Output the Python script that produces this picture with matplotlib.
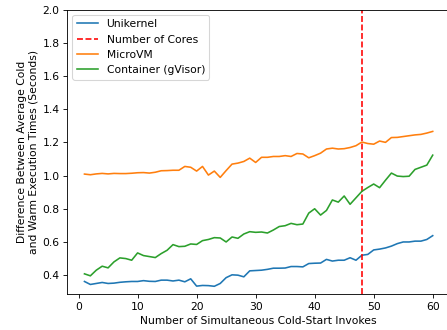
import matplotlib
matplotlib.use("Agg")
import matplotlib.pyplot as plt
import numpy as np

invokes = list(range(1, 61))

unikernel = [0.362, 0.344, 0.350, 0.356, 0.350, 0.352, 0.357, 0.360, 0.362, 0.362,
             0.367, 0.363, 0.362, 0.370, 0.370, 0.365, 0.370, 0.360, 0.378, 0.334,
             0.338, 0.337, 0.333, 0.350, 0.385, 0.402, 0.400, 0.390, 0.426, 0.428,
             0.430, 0.435, 0.442, 0.442, 0.443, 0.452, 0.452, 0.450, 0.470, 0.472,
             0.473, 0.495, 0.485, 0.490, 0.490, 0.505, 0.490, 0.520, 0.525, 0.552,
             0.557, 0.564, 0.575, 0.590, 0.600, 0.600, 0.605, 0.605, 0.615, 0.638]

cores = 48

microvm = [1.009, 1.005, 1.010, 1.013, 1.010, 1.013, 1.012, 1.012, 1.014, 1.017,
           1.018, 1.015, 1.020, 1.029, 1.030, 1.032, 1.032, 1.055, 1.050, 1.027,
           1.055, 1.003, 1.027, 0.989, 1.030, 1.069, 1.075, 1.085, 1.105, 1.079,
           1.110, 1.110, 1.115, 1.115, 1.120, 1.115, 1.133, 1.130, 1.107, 1.120,
           1.135, 1.160, 1.165, 1.160, 1.162, 1.169, 1.180, 1.202, 1.193, 1.189,
           1.208, 1.200, 1.229, 1.230, 1.235, 1.240, 1.245, 1.248, 1.256, 1.266]

container = [0.408, 0.396, 0.430, 0.454, 0.444, 0.480, 0.504, 0.500, 0.490, 0.534,
             0.518, 0.512, 0.506, 0.530, 0.550, 0.584, 0.572, 0.574, 0.588, 0.585,
             0.608, 0.615, 0.626, 0.624, 0.600, 0.630, 0.622, 0.648, 0.662, 0.658,
             0.660, 0.654, 0.672, 0.693, 0.698, 0.712, 0.704, 0.708, 0.774, 0.800,
             0.762, 0.790, 0.853, 0.840, 0.877, 0.827, 0.866, 0.905, 0.928, 0.949,
             0.927, 0.972, 1.015, 0.997, 0.994, 0.996, 1.037, 1.050, 1.063, 1.123]

DPI = 77
fig = plt.figure(figsize=(447 / DPI, 330 / DPI), dpi=DPI)
ax = fig.add_axes([0.150, 0.109, 0.857, 0.862])

ax.plot(invokes, unikernel, color="tab:blue", label="Unikernel")
ax.axvline(cores, color="red", linestyle="--", label="Number of Cores")
ax.plot(invokes, microvm, color="tab:orange", label="MicroVM")
ax.plot(invokes, container, color="tab:green", label="Container (gVisor)")

ax.set_ylim(top=2.0)
ax.set_xlabel("Number of Simultaneous Cold-Start Invokes")
ax.set_ylabel("Difference Between Average Cold\nand Warm Execution Times (Seconds)")
ax.legend(loc="upper left")

fig.savefig("out.png", dpi=DPI)
